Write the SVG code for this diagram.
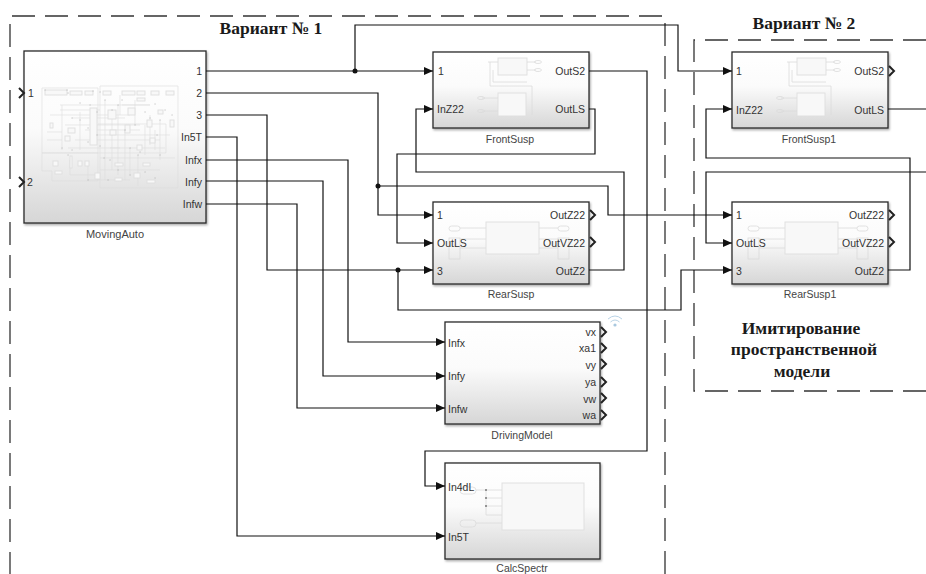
<svg xmlns="http://www.w3.org/2000/svg" width="926" height="574" viewBox="0 0 926 574">
<style>
.t{font-family:"Liberation Sans",Arial,sans-serif;font-size:10.5px;fill:#333}
.n{font-family:"Liberation Sans",Arial,sans-serif;font-size:10.5px;fill:#444;text-anchor:middle}
.e{text-anchor:end}
.h{font-family:"Liberation Serif","Times New Roman",serif;font-weight:bold;font-size:17.5px;fill:#1a1a1a;text-anchor:middle}
.b{fill:url(#g);stroke:#2a2a2a;stroke-width:1.3;filter:url(#s)}
.w{fill:none;stroke:#111;stroke-width:1.2}
.a{marker-end:url(#ah)}
.d{fill:none;stroke:#333;stroke-width:1.3;stroke-dasharray:23 10}
.i{fill:#f8f8f8;stroke:#dedede;stroke-width:.9}
.l{fill:none;stroke:#dadada;stroke-width:.8}
.f{fill:none;stroke:#dcdcdc;stroke-width:.6}
.p{fill:none;stroke:#a8a8a8;stroke-width:1;stroke-linecap:round}
.c{fill:none;stroke:#222;stroke-width:2}
</style>
<defs>
<linearGradient id="g" x1="0" y1="0" x2="0" y2="1"><stop offset="0" stop-color="#fff"/><stop offset=".45" stop-color="#fbfbfb"/><stop offset="1" stop-color="#d6d6d6"/></linearGradient>
<filter id="s" x="-5%" y="-5%" width="112%" height="112%"><feDropShadow dx="1" dy="1.5" stdDeviation="1" flood-color="#000" flood-opacity=".35"/></filter>
<filter id="u"><feGaussianBlur stdDeviation=".35"/></filter>
<marker id="ah" markerUnits="userSpaceOnUse" markerWidth="9" markerHeight="8" refX="9" refY="4" orient="auto"><path d="M0 0L9 4L0 8Z" fill="#111"/></marker>
</defs>
<rect width="926" height="574" fill="#fff"/>
<g id="frames">
<path class="d" d="M665 574V16H10V574"/>
<path class="d" d="M926 40H694V391H926"/>
</g>
<g id="titles">
<text class="h" x="271" y="34">Вариант № 1</text>
<text class="h" x="804" y="29">Вариант № 2</text>
<text class="h" x="801" y="334">Имитирование</text>
<text class="h" x="804" y="355">пространственной</text>
<text class="h" x="802" y="377">модели</text>
</g>
<g id="MovingAuto">
<rect class="b" x="24" y="51" width="182" height="172"/>
<g filter="url(#u)">
<g class="f">
<path d="M42 88H98V153H42ZM100 86H178V188H100ZM42 153H98V181H52V171H42ZM98 124H166V153H98M50 115H130M60 105H150M62 105V150M80 112V150M105 100V180M112 110V170M118 105V175M125 130V180M65 125H140M75 140H160M70 160V175H100M88 165V180H130M145 125V155M155 130V150M110 148H165M60 110H100M122 105H150M72 118H125M85 130H140M95 135H170M68 148H120M100 158H175M100 170H160M130 148V175M138 155V186M120 95V115M135 100V125M150 115V145M160 120V160M47 140H62M47 132H62"/>
</g>
<g class="i">
<rect x="45" y="90" width="22" height="5"/><rect x="70" y="91" width="12" height="4"/><rect x="85" y="91" width="8" height="4"/><rect x="103" y="91" width="8" height="4"/><rect x="122" y="91" width="13" height="4"/><rect x="137" y="91" width="8" height="4"/><rect x="151" y="91" width="8" height="4"/><rect x="166" y="91" width="8" height="4"/><rect x="137" y="98" width="8" height="3"/>
<rect x="90" y="108" width="7" height="37"/><rect x="108" y="110" width="8" height="9"/><rect x="128" y="108" width="7" height="7"/><rect x="68" y="128" width="7" height="5"/><rect x="65" y="136" width="5" height="5"/><rect x="147" y="120" width="5" height="7"/><rect x="170" y="120" width="4" height="7"/><rect x="150" y="138" width="5" height="5"/><rect x="137" y="145" width="5" height="5"/><rect x="50" y="123" width="3" height="5"/><rect x="110" y="130" width="6" height="5"/><rect x="125" y="125" width="5" height="8"/><rect x="158" y="110" width="5" height="4"/>
<rect x="53" y="161" width="5" height="5"/><rect x="70" y="156" width="2" height="12"/><rect x="78" y="161" width="4" height="5"/><rect x="85" y="161" width="4" height="5"/><rect x="55" y="171" width="7" height="3"/><rect x="115" y="163" width="8" height="3"/><rect x="143" y="163" width="7" height="3"/><rect x="115" y="178" width="7" height="3"/><rect x="134" y="173" width="6" height="5"/><rect x="147" y="180" width="8" height="3"/><rect x="95" y="173" width="5" height="6"/>
</g>
<path class="p" d="M45 90h.1M67 90h.1M68 93h.1M93 91h.1M100 92h.1M122 100h.1M80 103h.1M90 105h.1M97 112h.1M72 118h.1M80 120h.1M88 128h.1M97 135h.1M62 148h.1M72 150h.1M88 142h.1M105 100h.1M112 110h.1M118 105h.1M125 130h.1M135 125h.1M145 112h.1M150 118h.1M160 120h.1M157 135h.1M130 148h.1M140 152h.1M160 155h.1M100 146h.1M104 158h.1M110 160h.1M118 170h.1M68 155h.1M88 180h.1M130 175h.1M145 172h.1M155 178h.1M108 180h.1M165 110h.1M172 115h.1M155 104h.1M138 155h.1"/>
</g>
<text class="t" x="28" y="97">1</text>
<text class="t" x="27" y="186">2</text>
<text class="t e" x="202" y="75">1</text>
<text class="t e" x="202" y="97">2</text>
<text class="t e" x="202" y="119">3</text>
<text class="t e" x="202" y="141">In5T</text>
<text class="t e" x="202" y="164">Infx</text>
<text class="t e" x="202" y="186">Infy</text>
<text class="t e" x="202" y="208">Infw</text>
<path class="c" d="M19 88L24 93L19 98M19 177L24 182L19 187"/>
<text class="n" x="115" y="238" style="font-size:11px">MovingAuto</text>
</g>
<g id="FrontSusp">
<rect class="b" x="433" y="52" width="156" height="76"/>
<g class="l" filter="url(#u)"><path d="M488 62H498M527 62H536M527 70H536M490 62V86H532V115M493 70V82H527M482 98H498M482 111H498"/><rect class="i" x="498" y="58" width="29" height="17"/><rect class="i" x="498" y="93" width="28" height="23"/><ellipse cx="538" cy="62" rx="3.500" ry="1.500"/><ellipse cx="538" cy="70" rx="3.500" ry="1.500"/><ellipse cx="481" cy="98" rx="3.500" ry="1.500"/><ellipse cx="481" cy="111" rx="3.500" ry="1.500"/></g>
<text class="t" x="438" y="75">1</text><text class="t" x="437" y="113">InZ22</text>
<text class="t e" x="585" y="75">OutS2</text><text class="t e" x="585" y="113">OutLS</text>
<text class="n" x="510" y="143">FrontSusp</text>
</g>
<g id="RearSusp">
<rect class="b" x="433" y="202" width="156" height="82"/>
<g class="l" filter="url(#u)"><path d="M460 228H486M460 239H486M460 248H486M539 228H558M539 239H558M539 248H558"/><rect class="i" x="486" y="222" width="53" height="32"/><rect x="449" y="226" width="11" height="5" rx="2.500"/><rect x="558" y="226" width="11" height="5" rx="2.500"/><rect x="449" y="238" width="11" height="21"/><rect x="558" y="238" width="11" height="21"/></g>
<text class="t" x="437" y="219">1</text><text class="t" x="437" y="247">OutLS</text><text class="t" x="437" y="275">3</text>
<text class="t e" x="585" y="219">OutZ22</text><text class="t e" x="585" y="247">OutVZ22</text><text class="t e" x="585" y="275">OutZ2</text>
<path class="c" d="M590 210L595 215L590 220M590 237L595 242L590 247"/>
<text class="n" x="511" y="298">RearSusp</text>
</g>
<g id="FrontSusp1">
<rect class="b" x="732" y="52" width="156" height="76"/>
<g class="l" filter="url(#u)"><path d="M787 62H797M826 62H835M826 70H835M789 62V86H831V115M792 70V82H826M781 98H797M781 111H797"/><rect class="i" x="797" y="58" width="29" height="17"/><rect class="i" x="797" y="93" width="28" height="23"/><ellipse cx="837" cy="62" rx="3.500" ry="1.500"/><ellipse cx="837" cy="70" rx="3.500" ry="1.500"/><ellipse cx="780" cy="98" rx="3.500" ry="1.500"/><ellipse cx="780" cy="111" rx="3.500" ry="1.500"/></g>
<text class="t" x="736" y="75">1</text><text class="t" x="736" y="114">InZ22</text>
<text class="t e" x="884" y="75">OutS2</text><text class="t e" x="884" y="114">OutLS</text>
<path class="c" d="M889 66L894 71L889 76"/>
<text class="n" x="809" y="143">FrontSusp1</text>
</g>
<g id="RearSusp1">
<rect class="b" x="732" y="202" width="156" height="82"/>
<g class="l" filter="url(#u)"><path d="M759 228H785M759 239H785M759 248H785M838 228H857M838 239H857M838 248H857"/><rect class="i" x="785" y="222" width="53" height="32"/><rect x="748" y="226" width="11" height="5" rx="2.500"/><rect x="857" y="226" width="11" height="5" rx="2.500"/><rect x="748" y="238" width="11" height="21"/><rect x="857" y="238" width="11" height="21"/></g>
<text class="t" x="736" y="219">1</text><text class="t" x="736" y="247">OutLS</text><text class="t" x="736" y="275">3</text>
<text class="t e" x="884" y="219">OutZ22</text><text class="t e" x="884" y="247">OutVZ22</text><text class="t e" x="884" y="275">OutZ2</text>
<path class="c" d="M889 210L894 215L889 220M889 237L894 242L889 247"/>
<text class="n" x="810" y="298">RearSusp1</text>
</g>
<g id="DrivingModel">
<rect class="b" x="445" y="322" width="155" height="102"/>
<text class="t" x="448" y="347">Infx</text><text class="t" x="448" y="380">Infy</text><text class="t" x="448" y="413">Infw</text>
<text class="t e" x="596" y="336">vx</text><text class="t e" x="596" y="352">xa1</text><text class="t e" x="596" y="369">vy</text><text class="t e" x="596" y="386">ya</text><text class="t e" x="596" y="403">vw</text><text class="t e" x="596" y="419">wa</text>
<path class="c" d="M601 327L606 332L601 337M601 343L606 348L601 353M601 359L606 364L601 369M601 377L606 382L601 387M601 393L606 398L601 403M601 410L606 415L601 420"/>
<path fill="none" stroke="#b9d3e6" stroke-width="1" d="M608 319Q615 313 622 319M610.500 322Q615 318 619.500 322"/><circle cx="615" cy="325" r="1.600" fill="#a9c8df"/>
<text class="n" x="522" y="439">DrivingModel</text>
</g>
<g id="CalcSpectr">
<rect class="b" x="445" y="463" width="155" height="96"/>
<g class="l" filter="url(#u)"><path d="M476 490H502M486 490V515M486 498H502M486 506H502M486 515H502M476 523H502"/><rect class="i" x="502" y="483" width="82" height="47"/><rect x="460" y="487" width="16" height="7" rx="3.500"/><rect x="460" y="520" width="16" height="7" rx="3.500"/></g>
<circle cx="486" cy="490" r="1" fill="#777"/><circle cx="486" cy="498" r="1" fill="#777"/><circle cx="486" cy="506" r="1" fill="#777"/>
<text class="t" x="448" y="491">In4dL</text><text class="t" x="448" y="541">In5T</text>
<text class="n" x="522" y="572">CalcSpectr</text>
</g>
<g id="connectors">
<path class="w a" d="M206 71H433"/>
<path class="w a" d="M355 71V25H678V71H732"/>
<path class="w a" d="M206 93H378V215H433"/>
<path class="w a" d="M378 186H608V215H732"/>
<path class="w a" d="M206 115H267V270H433"/>
<path class="w a" d="M398 270V310H681V270H732"/>
<path class="w a" d="M206 137H237V536H445"/>
<path class="w a" d="M206 160H348V342H445"/>
<path class="w a" d="M206 181H323V376H445"/>
<path class="w a" d="M206 204H297V408H445"/>
<path class="w a" d="M589 71H647V451H425V486H445"/>
<path class="w a" d="M589 109H595V154H397V243H433"/>
<path class="w a" d="M589 270H624V172H416V109H433"/>
<path class="w" d="M888 109H926"/>
<path class="w a" d="M888 270H910V158H706V109H732"/>
<path class="w a" d="M926 172H706V243H732"/>
<circle cx="355" cy="71" r="2.500" fill="#111"/><circle cx="378" cy="186" r="2.500" fill="#111"/><circle cx="398" cy="270" r="2.500" fill="#111"/>
</g>
</svg>
